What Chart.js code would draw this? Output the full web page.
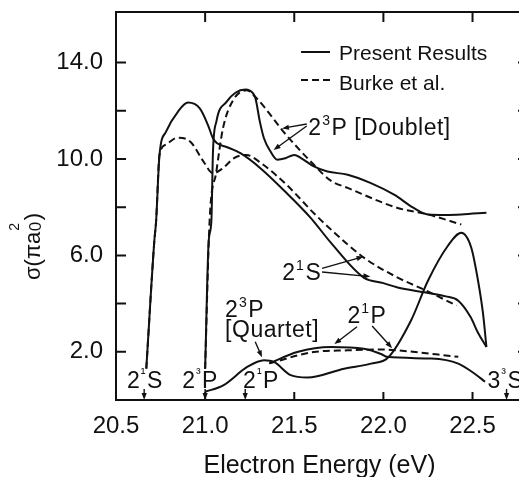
<!DOCTYPE html>
<html lang="en">
<head>
    <meta charset="UTF-8">
    <title>Cross sections</title>
    <script src="https://cdn.jsdelivr.net/npm/chart.js"></script>
    <style>
        * {
            box-sizing: border-box;
            margin: 0;
            padding: 0;
        }

        body {
            background-color: #fff;
        }

        .frame {
            width: 519px;
            height: 477px;
            overflow: hidden;
        }
    </style>
</head>
<body>
    <div class="frame">
        <canvas id="xsChart" width="531" height="477"></canvas>
    </div>

    <script>
        // Energies (eV) and cross sections (pi a0^2)
        const s21Energy = [20.67, 20.715, 20.725, 20.744, 20.78, 20.847, 20.904, 20.97, 21.016, 21.044, 21.067, 21.12, 21.198, 21.31, 21.457, 21.592, 21.705, 21.89, 22.0, 22.08, 22.23, 22.35, 22.42, 22.49, 22.53, 22.578];
        const s21Present = [1.3, 6.6, 7.42, 10.17, 11.13, 11.96, 12.34, 12.1, 11.41, 10.86, 10.65, 10.5, 10.24, 9.62, 8.59, 7.56, 6.53, 5.08, 4.85, 4.67, 4.47, 4.3, 4.12, 3.43, 2.8, 2.2];

        const s21BurkeEnergy = [20.67, 20.715, 20.725, 20.744, 20.78, 20.845, 20.917, 20.99, 21.044, 21.1, 21.16, 21.232, 21.31, 21.457, 21.61, 21.705, 21.89, 22.08, 22.24, 22.41];
        const s21Burke = [1.3, 6.6, 7.42, 10.17, 10.6, 10.88, 10.72, 9.9, 9.41, 9.62, 10.03, 10.17, 9.85, 8.93, 7.75, 7.08, 5.91, 5.08, 4.54, 3.92];

        const dblEnergy = [21.0, 21.02, 21.035, 21.044, 21.063, 21.12, 21.17, 21.226, 21.27, 21.283, 21.307, 21.33, 21.367, 21.405, 21.45, 21.5, 21.54, 21.61, 21.686, 21.8, 21.93, 22.06, 22.17, 22.25, 22.35, 22.437, 22.578];
        const dblPresent = [1.3, 6.6, 7.42, 10.3, 11.55, 12.37, 12.75, 12.88, 12.71, 12.5, 11.55, 10.86, 10.31, 9.97, 10.03, 10.17, 10.03, 9.69, 9.48, 9.35, 9.0, 8.52, 7.97, 7.7, 7.68, 7.7, 7.77];

        const dblBurkeEnergy = [21.0, 21.025, 21.063, 21.1, 21.157, 21.232, 21.29, 21.382, 21.44, 21.61, 21.705, 21.8, 22.08, 22.25, 22.437];
        const dblBurke = [1.3, 7.42, 9.48, 11.27, 12.44, 12.85, 12.51, 11.68, 11.13, 9.76, 9.1, 8.8, 7.97, 7.7, 7.28];

        const qrtEnergy = [21.0, 21.104, 21.236, 21.33, 21.386, 21.48, 21.574, 21.78, 21.93, 22.025, 22.155, 22.25, 22.362, 22.437, 22.493, 22.531, 22.559, 22.578];
        const qrtPresent = [0.34, 0.62, 1.37, 1.65, 1.58, 1.03, 0.93, 1.3, 1.51, 1.75, 3.3, 4.95, 6.4, 6.94, 6.32, 4.95, 3.58, 2.2];

        const p21Energy = [21.36, 21.517, 21.705, 21.89, 21.99, 22.02, 22.27, 22.42, 22.51, 22.57];
        const p21Present = [1.52, 1.99, 2.2, 2.13, 1.9, 1.79, 1.72, 1.51, 1.1, 0.76];

        const p21BurkeEnergy = [21.36, 21.61, 21.8, 21.99, 22.08, 22.42];
        const p21Burke = [1.52, 1.99, 2.06, 2.1, 2.06, 1.79];

        // thresholds marked on the energy axis
        const thresholdNames = ['2¹S', '2³P', '2¹P', '3³S'];
        const thresholdEnergy = [20.658, 21.0, 21.225, 22.691];

        const xTicks = [21.0, 21.5, 22.0, 22.5];
        const yTicks = [2, 4, 6, 8, 10, 12, 14];
        const yLabelled = [2, 6, 10, 14];

        const INK = '#111';
        const FONT = "'Liberation Sans', Arial, sans-serif";
        const DASH = [7, 4];

        function pts(xs, ys) {
            return xs.map((x, i) => ({ x: x, y: ys[i] }));
        }

        function curve(xs, ys, dashed) {
            return {
                data: pts(xs, ys),
                showLine: true,
                borderColor: INK,
                borderWidth: 2,
                borderDash: dashed ? DASH : [],
                pointRadius: 0,
                cubicInterpolationMode: 'monotone',
                fill: false
            };
        }

        // text with superscripts, parts like ['2', {sup: '3'}, 'P']
        function rich(ctx, x, y, parts, size) {
            let cx = x;
            for (const p of parts) {
                if (typeof p === 'string') {
                    ctx.font = size + 'px ' + FONT;
                    ctx.fillText(p, cx, y);
                    cx += ctx.measureText(p).width;
                } else {
                    const s = Math.round(size * 0.62);
                    ctx.font = s + 'px ' + FONT;
                    ctx.fillText(p.sup, cx + 0.5, y - size * 0.42);
                    cx += ctx.measureText(p.sup).width + 1.5;
                }
            }
            return cx;
        }

        function arrow(ctx, x1, y1, x2, y2) {
            const a = Math.atan2(y2 - y1, x2 - x1);
            const len = 7, half = 2.6;
            ctx.beginPath();
            ctx.moveTo(x1, y1);
            ctx.lineTo(x2 - Math.cos(a) * len * 0.8, y2 - Math.sin(a) * len * 0.8);
            ctx.stroke();
            ctx.beginPath();
            ctx.moveTo(x2, y2);
            ctx.lineTo(x2 - Math.cos(a) * len - Math.sin(a) * half, y2 - Math.sin(a) * len + Math.cos(a) * half);
            ctx.lineTo(x2 - Math.cos(a) * len + Math.sin(a) * half, y2 - Math.sin(a) * len - Math.cos(a) * half);
            ctx.closePath();
            ctx.fill();
        }

        const decorations = {
            id: 'decorations',
            afterDraw(chart) {
                const ctx = chart.ctx;
                const area = chart.chartArea;
                const X = v => chart.scales.x.getPixelForValue(v);
                const Y = v => chart.scales.y.getPixelForValue(v);

                ctx.save();
                ctx.strokeStyle = INK;
                ctx.fillStyle = INK;
                ctx.textAlign = 'left';
                ctx.textBaseline = 'alphabetic';

                // frame and inward ticks
                ctx.lineWidth = 2;
                ctx.strokeRect(area.left, area.top, area.right - area.left, area.bottom - area.top);
                ctx.beginPath();
                xTicks.forEach(v => {
                    ctx.moveTo(X(v), area.top);
                    ctx.lineTo(X(v), area.top + 10);
                    ctx.moveTo(X(v), area.bottom);
                    ctx.lineTo(X(v), area.bottom - 8);
                });
                yTicks.forEach(v => {
                    ctx.moveTo(area.left, Y(v));
                    ctx.lineTo(area.left + 10, Y(v));
                    ctx.moveTo(area.right, Y(v));
                    ctx.lineTo(area.right - 8, Y(v));
                });
                ctx.stroke();

                ctx.lineWidth = 1.4;
                ctx.letterSpacing = '0.5px';

                // 2³P [Doublet]
                rich(ctx, X(21.579), Y(11.0), ['2', { sup: '3' }, 'P [Doublet]'], 23);
                arrow(ctx, X(21.57), Y(11.45), X(21.431), Y(11.27));
                arrow(ctx, X(21.57), Y(11.37), X(21.384), Y(10.37));

                // 2¹S
                rich(ctx, X(21.433), Y(4.98), ['2', { sup: '1' }, 'S'], 23);
                arrow(ctx, X(21.656), Y(5.46), X(21.889), Y(5.95));
                arrow(ctx, X(21.656), Y(5.31), X(21.927), Y(5.12));

                // 2³P [Quartet]
                rich(ctx, X(21.112), Y(3.44), ['2', { sup: '3' }, 'P'], 23);
                rich(ctx, X(21.112), Y(2.61), ['[Quartet]'], 23);
                arrow(ctx, X(21.281), Y(2.42), X(21.319), Y(1.77));

                // 2¹P
                rich(ctx, X(21.798), Y(3.2), ['2', { sup: '1' }, 'P'], 23);
                arrow(ctx, X(21.852), Y(3.04), X(21.725), Y(2.32));
                arrow(ctx, X(21.937), Y(3.07), X(22.049), Y(2.15));

                // thresholds
                const labelLeft = [20.562, 20.871, 21.213, 22.584];
                thresholdNames.forEach((name, i) => {
                    rich(ctx, X(labelLeft[i]), Y(0.5), [name[0], { sup: name[1] }, name[2]], 23);
                    arrow(ctx, X(thresholdEnergy[i]), Y(0.46), X(thresholdEnergy[i]), area.bottom);
                });

                // legend
                ctx.letterSpacing = '0px';
                ctx.lineWidth = 2;
                ctx.beginPath();
                ctx.moveTo(301, 52);
                ctx.lineTo(330, 52);
                ctx.stroke();
                ctx.setLineDash([7, 4]);
                ctx.beginPath();
                ctx.moveTo(301, 80);
                ctx.lineTo(330, 80);
                ctx.stroke();
                ctx.setLineDash([]);
                ctx.font = '21px ' + FONT;
                ctx.fillText('Present Results', 339, 60);
                ctx.fillText('Burke et al.', 339, 90);

                // axis titles
                ctx.font = '25px ' + FONT;
                ctx.textAlign = 'center';
                ctx.fillText('Electron Energy (eV)', 319.5, 473);

                ctx.textAlign = 'left';
                ctx.translate(40, 280);
                ctx.rotate(-Math.PI / 2);
                let cx = rich(ctx, 0, 0, ['σ(πa'], 22);
                ctx.font = '14px ' + FONT;
                ctx.fillText('2', cx + 1, -21);
                const supW = ctx.measureText('2').width;
                ctx.font = '17px ' + FONT;
                ctx.fillText('0', cx + 0.5, 1);
                cx += Math.max(supW, ctx.measureText('0').width) + 2;
                ctx.font = '22px ' + FONT;
                ctx.fillText(')', cx, 0);

                ctx.restore();
            }
        };

        function pinBox(width, height) {
            return scale => {
                if (width) scale.width = width;
                if (height) scale.height = height;
                scale.paddingTop = 0;
                scale.paddingBottom = 0;
                scale.paddingLeft = 0;
                scale.paddingRight = 0;
            };
        }

        const ctx = document.getElementById('xsChart').getContext('2d');
        const xsChart = new Chart(ctx, {
            type: 'scatter',
            data: {
                datasets: [
                    curve(s21Energy, s21Present, false),
                    curve(s21BurkeEnergy, s21Burke, true),
                    curve(dblEnergy, dblPresent, false),
                    curve(dblBurkeEnergy, dblBurke, true),
                    curve(qrtEnergy, qrtPresent, false),
                    curve(p21Energy, p21Present, false),
                    curve(p21BurkeEnergy, p21Burke, true)
                ]
            },
            options: {
                responsive: false,
                animation: false,
                layout: {
                    padding: { top: 12, right: 5, left: 0, bottom: 0 }
                },
                plugins: {
                    legend: { display: false },
                    tooltip: { enabled: false }
                },
                scales: {
                    x: {
                        type: 'linear',
                        min: 20.5,
                        max: 22.8,
                        grid: { display: false, drawTicks: false },
                        border: { display: false },
                        ticks: {
                            stepSize: 0.5,
                            includeBounds: false,
                            autoSkip: false,
                            maxRotation: 0,
                            padding: 12,
                            color: INK,
                            font: { family: FONT, size: 24 },
                            callback: v => v.toFixed(1)
                        },
                        afterFit: pinBox(0, 77)
                    },
                    y: {
                        type: 'linear',
                        min: 0,
                        max: 16.1,
                        grid: { display: false, drawTicks: false },
                        border: { display: false },
                        ticks: {
                            stepSize: 2,
                            includeBounds: false,
                            autoSkip: false,
                            padding: 13,
                            color: INK,
                            font: { family: FONT, size: 24 },
                            callback: v => yLabelled.includes(v) ? v.toFixed(1) : ''
                        },
                        afterFit: pinBox(116, 0)
                    }
                }
            },
            plugins: [decorations]
        });
    </script>
</body>
</html>
